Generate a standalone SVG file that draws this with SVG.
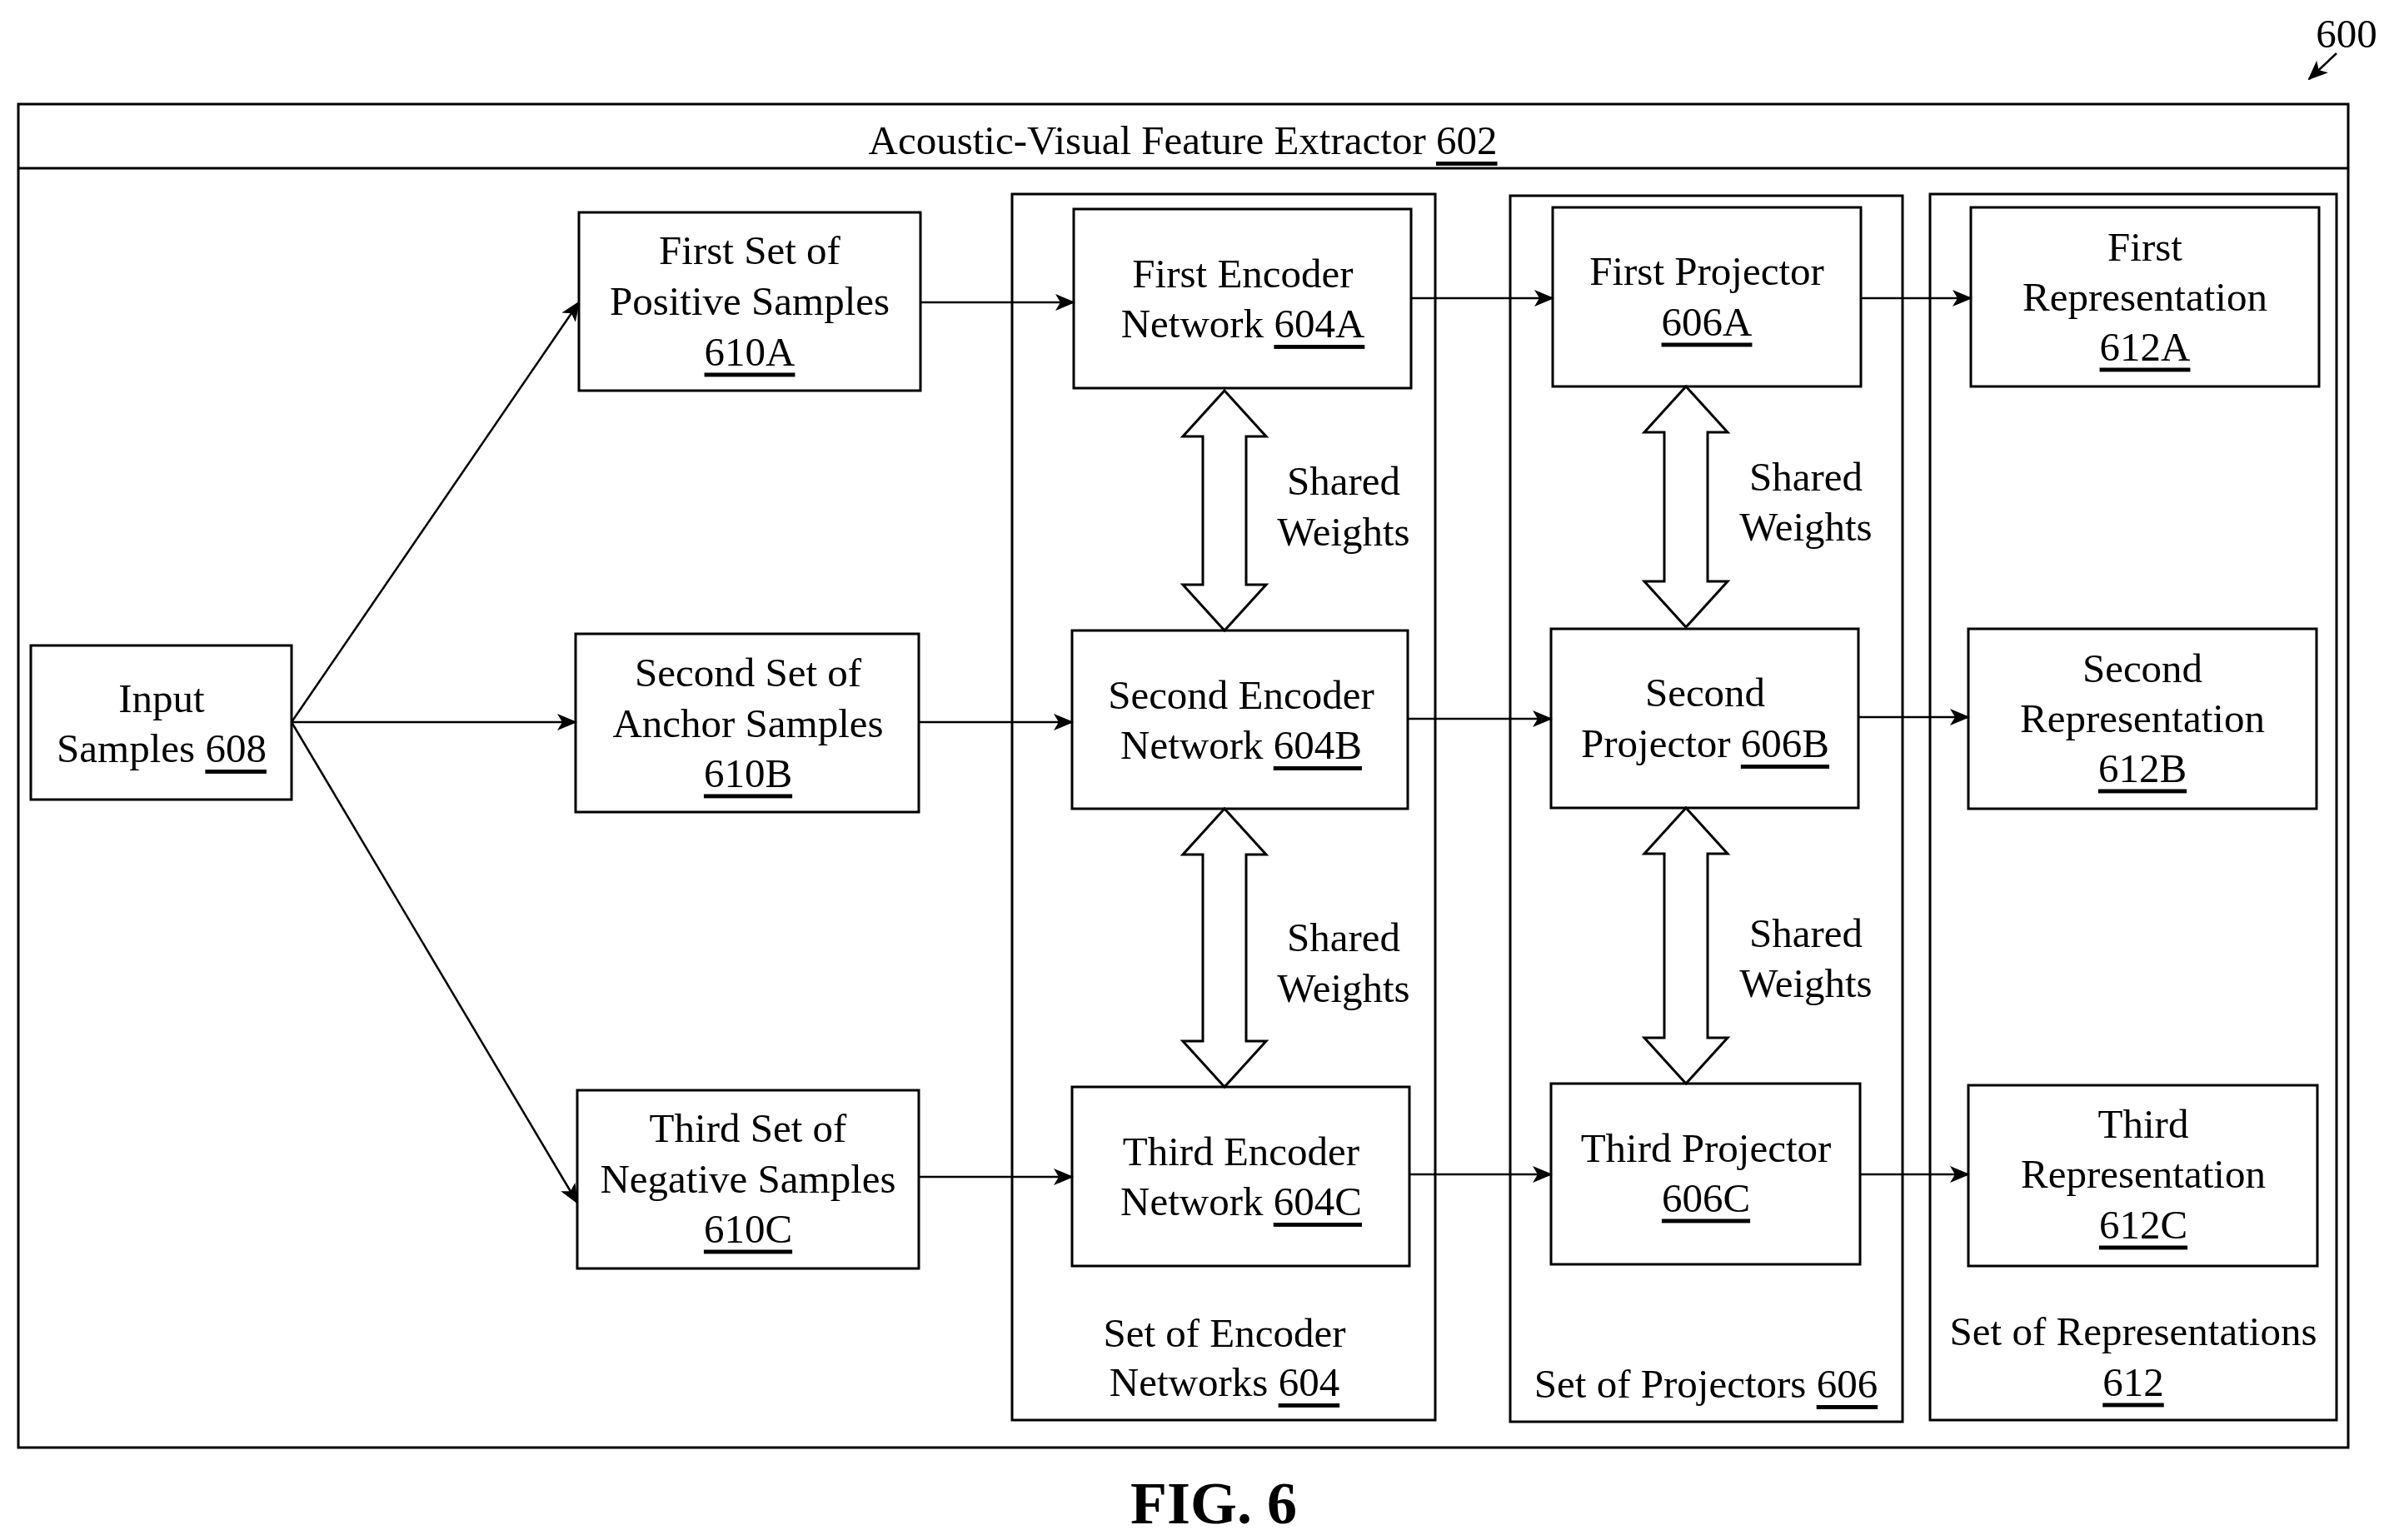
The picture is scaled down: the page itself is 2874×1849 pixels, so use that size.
<svg xmlns="http://www.w3.org/2000/svg" width="2874" height="1849" viewBox="0 0 2874 1849">
<defs>
<marker id="a" markerWidth="24" markerHeight="20" refX="22" refY="10" orient="auto" markerUnits="userSpaceOnUse" viewBox="0 0 24 20"><path d="M0,0 L24,10 L0,20 L6,10 Z" fill="#000"/></marker>
</defs>
<style>
rect{fill:#fff;stroke:#000;stroke-width:3}
text{font-family:"Liberation Serif","Times New Roman",serif;font-size:49px;fill:#000;text-anchor:middle;dominant-baseline:central}
.u{text-decoration:underline}
.c line{stroke:#000;stroke-width:2.5;marker-end:url(#a)}
.d{fill:#fff;stroke:#000;stroke-width:3}
</style>
<rect width="2874" height="1849" style="fill:#fff;stroke:none"/>
<g id="n600"><text x="2817" y="40">600</text><line x1="2805" y1="64" x2="2772" y2="95" stroke="#000" stroke-width="2.5" marker-end="url(#a)"/></g>
<g id="n602"><rect x="22" y="125" width="2797" height="1613"/><line x1="22" y1="202" x2="2819" y2="202" stroke="#000" stroke-width="3"/><text x="1420" y="168">Acoustic-Visual Feature Extractor <tspan class="u">602</tspan></text></g>
<g id="n604"><rect x="1215" y="233" width="508" height="1472"/><text x="1470" y="1600">Set of Encoder</text><text x="1470" y="1659">Networks <tspan class="u">604</tspan></text></g>
<g id="n606"><rect x="1813" y="235" width="471" height="1472"/><text x="2048" y="1661">Set of Projectors <tspan class="u">606</tspan></text></g>
<g id="n612"><rect x="2317" y="233" width="488" height="1472"/><text x="2561" y="1598">Set of Representations</text><text x="2561" y="1659" class="u">612</text></g>
<g id="n608"><rect x="37" y="775" width="313" height="185"/><text x="194" y="838">Input</text><text x="194" y="898">Samples <tspan class="u">608</tspan></text></g>
<g id="n610A"><rect x="695" y="255" width="410" height="214"/><text x="900" y="300">First Set of</text><text x="900" y="361">Positive Samples</text><text x="900" y="422" class="u">610A</text></g>
<g id="n610B"><rect x="691" y="761" width="412" height="214"/><text x="898" y="807">Second Set of</text><text x="898" y="868">Anchor Samples</text><text x="898" y="928" class="u">610B</text></g>
<g id="n610C"><rect x="693" y="1309" width="410" height="214"/><text x="898" y="1354">Third Set of</text><text x="898" y="1415">Negative Samples</text><text x="898" y="1475" class="u">610C</text></g>
<g id="n604A"><rect x="1289" y="251" width="405" height="215"/><text x="1492" y="328">First Encoder</text><text x="1492" y="388">Network <tspan class="u">604A</tspan></text></g>
<g id="n604B"><rect x="1287" y="757" width="403" height="214"/><text x="1490" y="834">Second Encoder</text><text x="1490" y="894">Network <tspan class="u">604B</tspan></text></g>
<g id="n604C"><rect x="1287" y="1305" width="405" height="215"/><text x="1490" y="1382">Third Encoder</text><text x="1490" y="1442">Network <tspan class="u">604C</tspan></text></g>
<g id="n606A"><rect x="1864" y="249" width="370" height="215"/><text x="2049" y="325">First Projector</text><text x="2049" y="386" class="u">606A</text></g>
<g id="n606B"><rect x="1862" y="755" width="369" height="215"/><text x="2047" y="831">Second</text><text x="2047" y="892">Projector <tspan class="u">606B</tspan></text></g>
<g id="n606C"><rect x="1862" y="1301" width="371" height="217"/><text x="2048" y="1378">Third Projector</text><text x="2048" y="1438" class="u">606C</text></g>
<g id="n612A"><rect x="2366" y="249" width="418" height="215"/><text x="2575" y="296">First</text><text x="2575" y="356">Representation</text><text x="2575" y="416" class="u">612A</text></g>
<g id="n612B"><rect x="2363" y="755" width="418" height="216"/><text x="2572" y="802">Second</text><text x="2572" y="862">Representation</text><text x="2572" y="922" class="u">612B</text></g>
<g id="n612C"><rect x="2363" y="1303" width="419" height="217"/><text x="2573" y="1349">Third</text><text x="2573" y="1409">Representation</text><text x="2573" y="1470" class="u">612C</text></g>
<g id="connectors" class="c">
<line x1="350" y1="867" x2="695" y2="363"/>
<line x1="350" y1="867" x2="691" y2="867"/>
<line x1="350" y1="867" x2="693" y2="1444"/>
<line x1="1105" y1="363" x2="1289" y2="363"/>
<line x1="1103" y1="867" x2="1287" y2="867"/>
<line x1="1103" y1="1413" x2="1287" y2="1413"/>
<line x1="1694" y1="358" x2="1864" y2="358"/>
<line x1="1690" y1="863" x2="1862" y2="863"/>
<line x1="1692" y1="1410" x2="1862" y2="1410"/>
<line x1="2234" y1="358" x2="2366" y2="358"/>
<line x1="2231" y1="861" x2="2363" y2="861"/>
<line x1="2233" y1="1410" x2="2363" y2="1410"/>
<path class="d" d="M1470,469 L1520,524 L1496,524 L1496,702 L1520,702 L1470,757 L1420,702 L1444,702 L1444,524 L1420,524 Z"/>
<path class="d" d="M1470,971 L1520,1026 L1496,1026 L1496,1250 L1520,1250 L1470,1305 L1420,1250 L1444,1250 L1444,1026 L1420,1026 Z"/>
<path class="d" d="M2024,464 L2074,519 L2050,519 L2050,698 L2074,698 L2024,753 L1974,698 L1998,698 L1998,519 L1974,519 Z"/>
<path class="d" d="M2024,970 L2074,1025 L2050,1025 L2050,1246 L2074,1246 L2024,1301 L1974,1246 L1998,1246 L1998,1025 L1974,1025 Z"/>
<text x="1613" y="577">Shared</text><text x="1613" y="638">Weights</text>
<text x="1613" y="1125">Shared</text><text x="1613" y="1186">Weights</text>
<text x="2168" y="572">Shared</text><text x="2168" y="632">Weights</text>
<text x="2168" y="1120">Shared</text><text x="2168" y="1180">Weights</text>
</g>
<text x="1457" y="1805" style="font-weight:bold;font-size:72px">FIG. 6</text>
</svg>
